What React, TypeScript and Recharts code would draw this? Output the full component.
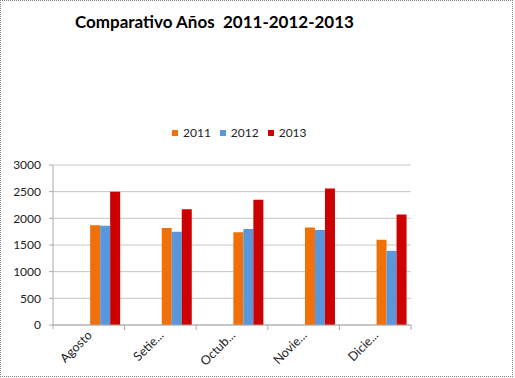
import React from "react";
import { BarChart, Bar, XAxis, YAxis, CartesianGrid } from "recharts";

const months = ["Agosto", "Setie...", "Octub...", "Novie...", "Dicie..."];
const values2011 = [1870, 1820, 1740, 1830, 1600];
const values2012 = [1860, 1750, 1800, 1780, 1390];
const values2013 = [2500, 2170, 2350, 2560, 2070];
const yTicks = [0, 500, 1000, 1500, 2000, 2500, 3000];
const seriesNames = ["2011", "2012", "2013"];
const colors = ["#F0700A", "#5A96DC", "#CC0000"];

const data = months.map((m, i) => ({
  month: m,
  "2011": values2011[i],
  "2012": values2012[i],
  "2013": values2013[i],
}));

const FONT = "Lato, 'Noto Sans', sans-serif";

const XTick = (props: any) => {
  const { x, y, payload } = props;
  const off = payload && payload.offset ? payload.offset : 0;
  return (
    <g>
      {payload.index === 0 && (
        <line x1={x - off} x2={x - off} y1={y} y2={y + 4} stroke="#aaaaaa" />
      )}
      <line x1={x + off} x2={x + off} y1={y} y2={y + 5} stroke="#aaaaaa" />
      <text
        x={x + 4}
        y={y + 11}
        transform={`rotate(-45, ${x + 4}, ${y + 11})`}
        textAnchor="end"
        fontSize={12.5}
        fontFamily={FONT}
        fill="#222"
      >
        {payload.value}
      </text>
    </g>
  );
};

export default function App() {
  return (
    <div style={{ position: "absolute", left: 0, top: 0, width: 515, height: 378, background: "#fff" }}>
      <div
        style={{
          position: "absolute",
          left: 0,
          top: 0,
          width: 511,
          height: 375,
          border: "1px dotted #808080",
        }}
      />
      <div
        style={{
          position: "absolute",
          left: 75,
          top: 11,
          fontFamily: FONT,
          fontWeight: 700,
          fontSize: 17,
          whiteSpace: "pre",
          color: "#000",
        }}
      >
        {"Comparativo Años  2011-2012-2013"}
      </div>
      <div
        style={{
          position: "absolute",
          left: 172,
          top: 125,
          display: "flex",
          alignItems: "center",
          fontFamily: FONT,
          fontSize: 12,
          color: "#222",
          lineHeight: "16px",
        }}
      >
        {seriesNames.map((n, i) => (
          <div key={n} style={{ display: "flex", alignItems: "center", marginRight: 9 }}>
            <span style={{ width: 6, height: 6, background: colors[i], display: "inline-block", marginRight: 5 }} />
            <span>{n}</span>
          </div>
        ))}
      </div>
      <div style={{ position: "absolute", left: 0, top: 0 }}>
        <BarChart
          width={515}
          height={378}
          data={data}
          margin={{ top: 165, right: 104, bottom: 0, left: 0 }}
          barCategoryGap="10%"
          barGap={0}
        >
          <CartesianGrid vertical={false} stroke="#c4c4c4" />
          <XAxis
            dataKey="month"
            height={53}
            interval={0}
            tickLine={false}
            tickSize={0}
            tickMargin={0}
            axisLine={{ stroke: "#aaaaaa" }}
            tick={<XTick />}
          />
          <YAxis
            width={53}
            domain={[0, 3000]}
            ticks={yTicks}
            interval={0}
            tickSize={4}
            tickMargin={8}
            axisLine={{ stroke: "#aaaaaa" }}
            tickLine={{ stroke: "#aaaaaa" }}
            tick={{ fontSize: 12, fontFamily: FONT, fill: "#222" }}
          />
          <Bar dataKey="p1" legendType="none" isAnimationActive={false} />
          <Bar dataKey="p2" legendType="none" isAnimationActive={false} />
          <Bar dataKey="p3" legendType="none" isAnimationActive={false} />
          {seriesNames.map((n, i) => (
            <Bar key={n} dataKey={n} fill={colors[i]} isAnimationActive={false} />
          ))}
        </BarChart>
      </div>
    </div>
  );
}
